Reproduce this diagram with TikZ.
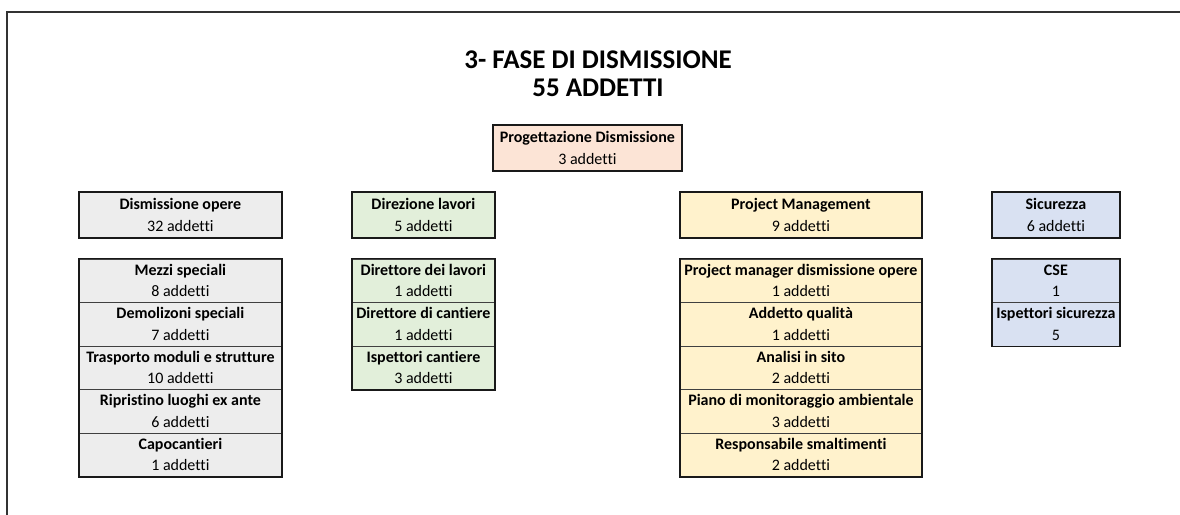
\documentclass[tikz,border=0pt]{standalone}
\usepackage{fontspec}
\setmainfont{Carlito}[Ligatures=CommonOff]
\begin{document}
\begin{tikzpicture}[x=1pt,y=-1pt,
  cell/.style={draw=black!75, line width=0.8pt, rectangle, inner sep=0pt, anchor=north west,
    align=center, font=\fontsize{16}{21.5}\selectfont, text=black},
  outer/.style={draw=black!90, line width=1.6pt},
  graycell/.style={cell, fill=gray!14},
  greencell/.style={cell, fill={rgb,255:red,226;green,239;blue,218}},
  yellowcell/.style={cell, fill={rgb,255:red,255;green,242;blue,204}},
  bluecell/.style={cell, fill={rgb,255:red,217;green,225;blue,242}},
  peachcell/.style={cell, fill={rgb,255:red,252;green,228;blue,214}},
  titletext/.style={align=center, font=\fontsize{27}{28}\selectfont\bfseries}
]
\useasboundingbox (0,0) rectangle (1180,514);
\draw[line width=2.2pt, draw=black!80] (7,520) -- (7,12) -- (1185,12);

\node[titletext] (title) at (598,74) {3- FASE DI DISMISSIONE\\55 ADDETTI};

% Progettazione
\node[peachcell, minimum width=188pt, minimum height=45pt] (prog) at (493,125) {\textbf{Progettazione Dismissione}\\3 addetti};
\draw[outer] (prog.north west) rectangle (prog.south east);

% Heads
\node[graycell, minimum width=202pt, minimum height=45pt] (dis) at (79,192) {\textbf{Dismissione opere}\\32 addetti};
\draw[outer] (dis.north west) rectangle (dis.south east);
\node[greencell, minimum width=142pt, minimum height=45pt] (dir) at (352,192) {\textbf{Direzione lavori}\\5 addetti};
\draw[outer] (dir.north west) rectangle (dir.south east);
\node[yellowcell, minimum width=241pt, minimum height=45pt] (pm) at (680,192) {\textbf{Project Management}\\9 addetti};
\draw[outer] (pm.north west) rectangle (pm.south east);
\node[bluecell, minimum width=127pt, minimum height=45pt] (sic) at (992,192) {\textbf{Sicurezza}\\6 addetti};
\draw[outer] (sic.north west) rectangle (sic.south east);

% Gray stack
\node[graycell, minimum width=202pt, minimum height=43.5pt] (g1) at (79,258.5) {\textbf{Mezzi speciali}\\8 addetti};
\node[graycell, minimum width=202pt, minimum height=43.5pt] (g2) at (79,302) {\textbf{Demolizoni speciali}\\7 addetti};
\node[graycell, minimum width=202pt, minimum height=43.5pt] (g3) at (79,345.5) {\textbf{Trasporto moduli e strutture}\\10 addetti};
\node[graycell, minimum width=202pt, minimum height=43.5pt] (g4) at (79,389) {\textbf{Ripristino luoghi ex ante}\\6 addetti};
\node[graycell, minimum width=202pt, minimum height=43.5pt] (g5) at (79,432.5) {\textbf{Capocantieri}\\1 addetti};
\draw[outer] (g1.north west) rectangle (g5.south east);

% Green stack
\node[greencell, minimum width=142pt, minimum height=43.5pt] (e1) at (352,258.5) {\textbf{Direttore dei lavori}\\1 addetti};
\node[greencell, minimum width=142pt, minimum height=43.5pt] (e2) at (352,302) {\textbf{Direttore di cantiere}\\1 addetti};
\node[greencell, minimum width=142pt, minimum height=43.5pt] (e3) at (352,345.5) {\textbf{Ispettori cantiere}\\3 addetti};
\draw[outer] (e1.north west) rectangle (e3.south east);

% Yellow stack
\node[yellowcell, minimum width=241pt, minimum height=43.5pt] (y1) at (680,258.5) {\textbf{Project manager dismissione opere}\\1 addetti};
\node[yellowcell, minimum width=241pt, minimum height=43.5pt] (y2) at (680,302) {\textbf{Addetto qualità}\\1 addetti};
\node[yellowcell, minimum width=241pt, minimum height=43.5pt] (y3) at (680,345.5) {\textbf{Analisi in sito}\\2 addetti};
\node[yellowcell, minimum width=241pt, minimum height=43.5pt] (y4) at (680,389) {\textbf{Piano di monitoraggio ambientale}\\3 addetti};
\node[yellowcell, minimum width=241pt, minimum height=43.5pt] (y5) at (680,432.5) {\textbf{Responsabile smaltimenti}\\2 addetti};
\draw[outer] (y1.north west) rectangle (y5.south east);

% Blue stack
\node[bluecell, minimum width=127pt, minimum height=43.5pt] (b1) at (992,258.5) {\textbf{CSE}\\1};
\node[bluecell, minimum width=127pt, minimum height=43.5pt] (b2) at (992,302) {\textbf{Ispettori sicurezza}\\5};
\draw[outer] (b1.north west) rectangle (b2.south east);
\end{tikzpicture}
\end{document}
